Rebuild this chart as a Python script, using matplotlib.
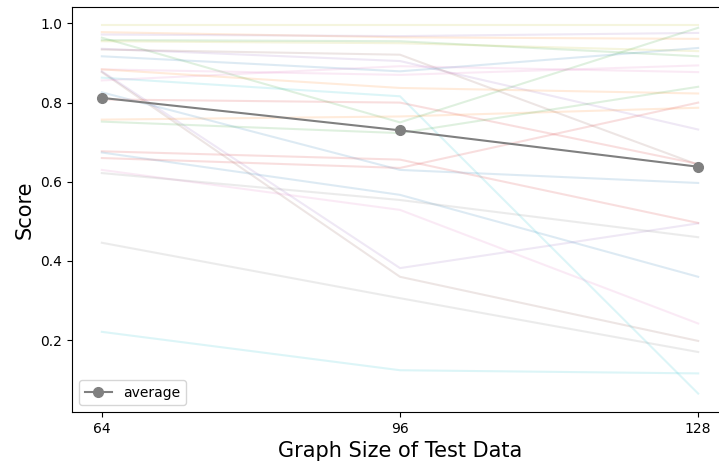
import matplotlib
matplotlib.use("Agg")
import matplotlib.pyplot as plt

sizes = [64, 96, 128]

# per-run scores at each test graph size (faint lines)
runs = [
    [0.995, 0.995, 0.995],
    [0.978, 0.965, 0.961],
    [0.972, 0.968, 0.976],
    [0.964, 0.750, 0.989],
    [0.958, 0.955, 0.917],
    [0.955, 0.950, 0.930],
    [0.936, 0.905, 0.732],
    [0.934, 0.921, 0.643],
    [0.917, 0.879, 0.938],
    [0.884, 0.870, 0.894],
    [0.879, 0.382, 0.495],
    [0.877, 0.360, 0.198],
    [0.863, 0.816, 0.065],
    [0.856, 0.892, 0.877],
    [0.884, 0.837, 0.823],
    [0.826, 0.630, 0.597],
    [0.808, 0.800, 0.645],
    [0.757, 0.765, 0.787],
    [0.752, 0.723, 0.840],
    [0.677, 0.656, 0.496],
    [0.674, 0.567, 0.360],
    [0.660, 0.635, 0.800],
    [0.630, 0.529, 0.242],
    [0.622, 0.554, 0.460],
    [0.446, 0.306, 0.170],
    [0.221, 0.124, 0.116],
]
run_colors = [
    'tab:olive', 'tab:orange', 'tab:purple', 'tab:green', 'tab:green',
    'tab:olive', 'tab:purple', 'tab:brown', 'tab:blue', 'tab:pink',
    'tab:purple', 'tab:brown', 'tab:cyan', 'tab:pink', 'tab:orange',
    'tab:blue', 'tab:red', 'tab:orange', 'tab:green', 'tab:red',
    'tab:blue', 'tab:red', 'tab:pink', 'tab:gray', 'tab:gray', 'tab:cyan',
]

average = [0.812, 0.730, 0.638]

fig = plt.figure(figsize=(7.19, 4.66), dpi=100)
ax = fig.add_axes([72 / 719, 54 / 466, 656 / 719, 405 / 466])

for vals, c in zip(runs, run_colors):
    ax.plot(sizes, vals, color=c, alpha=0.15, linewidth=1.5)

ax.plot(sizes, average, color='gray', marker='o', markersize=7,
        linewidth=1.5, label='average')

ax.set_xticks(sizes)
ax.set_xlabel('Graph Size of Test Data', fontsize=15)
ax.set_ylabel('Score', fontsize=15)
ax.legend(loc='lower left')

plt.savefig('out.png', dpi=100)
